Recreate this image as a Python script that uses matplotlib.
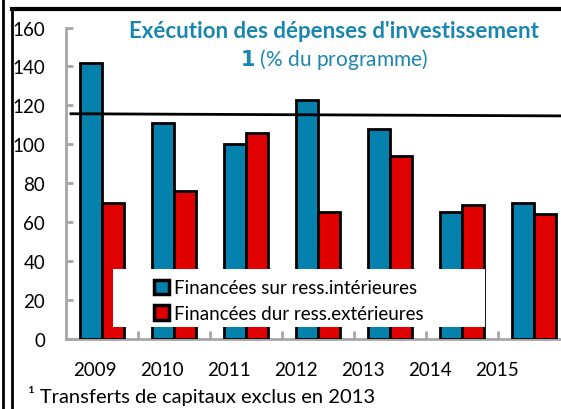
import numpy as np
import matplotlib.pyplot as plt
from matplotlib.patches import Rectangle
from matplotlib.lines import Line2D

years = ['2009', '2010', '2011', '2012', '2013', '2014', '2015']
interieures = [142, 111, 100, 123, 108, 65, 70]
exterieures = [70, 76, 106, 65, 94, 69, 64]
ref_line_x = [-0.45, 6.375]
ref_line_y = [115.7, 114.6]

blue = '#0581ae'
red = '#e00000'
grey = '#a6a6a6'
font = 'Lato'
plt.rcParams['font.family'] = [font, 'DejaVu Sans']

fig = plt.figure(figsize=(5.61, 4.10), dpi=100)
ax = fig.add_axes([66/561, 70/410, 495/561, 311.5/410])

x = np.arange(len(years))
w = 0.3
ax.bar(x - w/2, interieures, w, color=blue, edgecolor='black', linewidth=2,
       label='Financées sur ress.intérieures', zorder=3)
ax.bar(x + w/2, exterieures, w, color=red, edgecolor='black', linewidth=2,
       label='Financées dur ress.extérieures', zorder=3)
ax.plot(ref_line_x, ref_line_y, color='black', lw=2, zorder=4, solid_capstyle='butt')

ax.set_xlim(-0.5, 6.375)
ax.set_ylim(0, 160)
ax.set_yticks(range(0, 161, 20))
ax.tick_params(axis='y', direction='in', length=5, width=2, color=grey,
               labelsize=13.5, pad=15)
label_pos = np.arange(len(years)) * 67 / 72 - 0.1
ax.set_xticks(label_pos)
ax.set_xticklabels(years)
ax.tick_params(axis='x', which='major', length=0, labelsize=13.5, pad=16)
ax.set_xticks(x[:-1] + 0.5, minor=True)
ax.tick_params(axis='x', which='minor', direction='in', length=6, width=2, color=grey)

for s in ['top', 'right']:
    ax.spines[s].set_visible(False)
for s in ['left', 'bottom']:
    ax.spines[s].set_color(grey)
    ax.spines[s].set_linewidth(2)

# white box behind legend
ax.add_patch(Rectangle((113/561, (410-328)/410), 372/561, 58/410,
                       transform=fig.transFigure, facecolor='white',
                       edgecolor='none', zorder=5, clip_on=False))
leg = ax.legend(loc='upper left', bbox_to_anchor=(80/495, (340-273)/311.5),
                frameon=False, fontsize=13.5, handlelength=0.8, handleheight=0.8,
                handletextpad=0.3, labelspacing=0.45, borderaxespad=0)
leg.set_zorder(6)
for h in leg.legend_handles:
    h.set_linewidth(2.5)

fig.text(334/561, 1 - 31/410, "Exécution des dépenses d'investissement",
         color='#1a86b0', fontsize=16, fontweight='bold', ha='center', va='center')
fig.text(334/561, 1 - 60/410, r"$\mathbf{1}$ (% du programme)", color='#1a86b0',
         fontsize=15, ha='center', va='center')
fig.text(28/561, 1 - 396/410, "¹ Transferts de capitaux exclus en 2013",
         fontsize=14.5, ha='left', va='center')

# frame lines
fig.add_artist(Line2D([2.5/561, 2.5/561], [0, 1], color='black', lw=2))
fig.add_artist(Line2D([12/561, 12/561], [0, 1 - 10/410], color='black', lw=2))
fig.add_artist(Line2D([12/561, 1], [1 - 10/410, 1 - 10/410], color='black', lw=3))

fig.savefig('out.png', dpi=100)
